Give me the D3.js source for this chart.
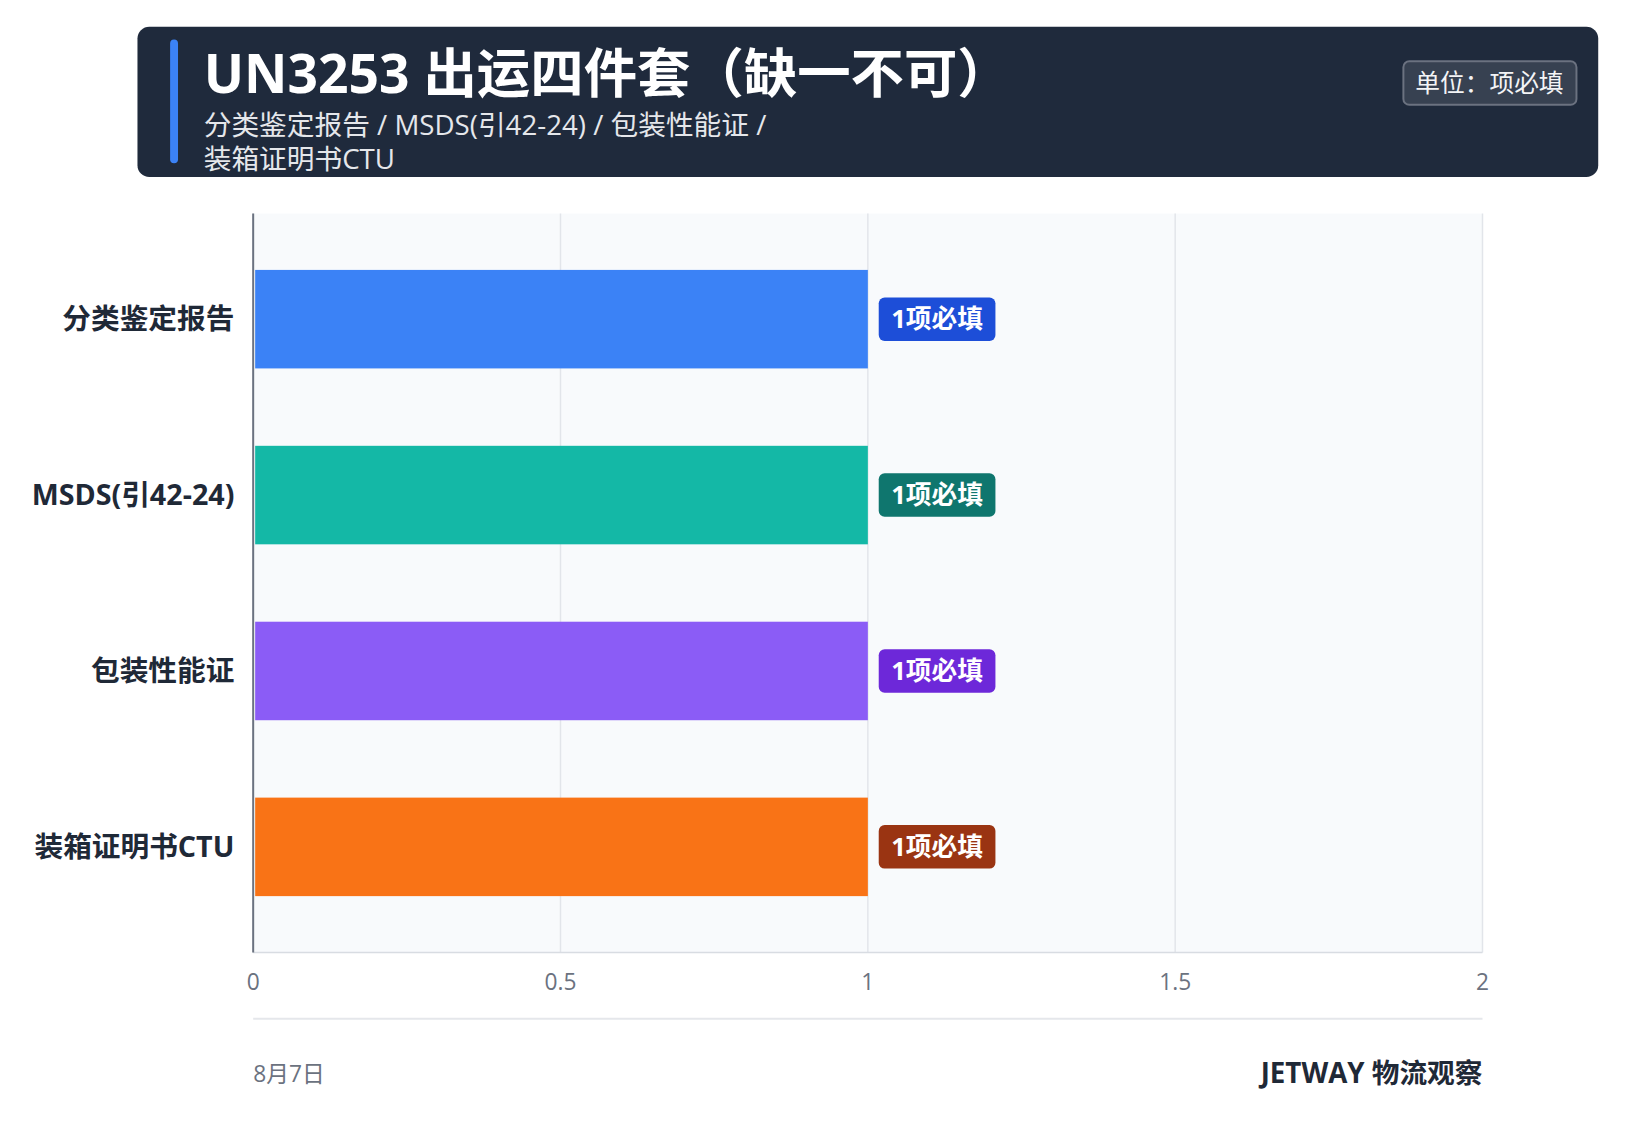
<!DOCTYPE html><html><head><meta charset="utf-8">
<script src="https://cdn.jsdelivr.net/npm/d3@7"></script>
<style>body{margin:0;background:#fff}</style></head><body>
<svg id="c" width="1648" height="1145"></svg>
<script>
const categories=["分类鉴定报告","MSDS(引42-24)","包装性能证","装箱证明书CTU"];
const values=[1,1,1,1];
const barLabels=["1项必填","1项必填","1项必填","1项必填"];
const barColors=["#3b82f6","#14b8a6","#8b5cf6","#f97316"];
const badgeColors=["#1d4ed8","#0f766e","#6d28d9","#9a3412"];
const xTicks=[0,0.5,1,1.5,2];
const svg=d3.select("#c").append("g").attr("transform","scale(0.989)");
const F='"Open Sans","Noto Sans CJK SC",sans-serif';
svg.append("rect").attr("x",139).attr("y",27).attr("width",1477).attr("height",152).attr("rx",12).attr("fill","#1f2a3c");
svg.append("rect").attr("x",172).attr("y",40).attr("width",8).attr("height",125).attr("rx",4).attr("fill","#3b82f6");
svg.append("text").attr("x",206).attr("y",94).attr("fill","#fff").attr("font-size",54).attr("font-weight",700).attr("font-family",F).text("UN3253 出运四件套（缺一不可）");
svg.append("text").attr("x",206).attr("y",136).attr("fill","#e5e7eb").attr("font-size",28).attr("font-family",F).text("分类鉴定报告 / MSDS(引42-24) / 包装性能证 /");
svg.append("text").attr("x",206).attr("y",171).attr("fill","#e5e7eb").attr("font-size",28).attr("font-family",F).text("装箱证明书CTU");
svg.append("rect").attr("x",1419).attr("y",62).attr("width",175).attr("height",44).attr("rx",6).attr("fill","#374151").attr("stroke","#6b7280").attr("stroke-width",2);
svg.append("text").attr("x",1506).attr("y",93).attr("text-anchor","middle").attr("fill","#f3f4f6").attr("font-size",25).attr("font-family",F).text("单位：项必填");
const L=256,R=1499,T=216,B=963;
const x=d3.scaleLinear().domain([0,2]).range([L,R]);
const y=d3.scaleBand().domain(categories).range([T,B]).paddingInner(0.44).paddingOuter(0.32);
svg.append("rect").attr("x",L).attr("y",T).attr("width",R-L).attr("height",B-T).attr("fill","#f8fafc");
svg.append("g").selectAll("line").data(xTicks).join("line").attr("x1",d=>x(d)).attr("x2",d=>x(d)).attr("y1",T).attr("y2",B).attr("stroke","#e2e5ea").attr("stroke-width",1.5);
svg.append("line").attr("x1",L).attr("x2",R).attr("y1",B).attr("y2",B).attr("stroke","#d8dce2").attr("stroke-width",1.5);
svg.append("line").attr("x1",L).attr("x2",L).attr("y1",T).attr("y2",B).attr("stroke","#6b7280").attr("stroke-width",2);
svg.append("g").selectAll("rect").data(categories).join("rect").attr("x",x(0)+2).attr("y",d=>y(d)).attr("width",(d,i)=>x(values[i])-x(0)-2).attr("height",y.bandwidth()).attr("fill",(d,i)=>barColors[i]);
const bg=svg.append("g").selectAll("g").data(categories).join("g").attr("transform",(d,i)=>`translate(${x(values[i])+11},${y(d)+y.bandwidth()/2})`);
bg.append("rect").attr("x",0).attr("y",-22).attr("width",118).attr("height",44).attr("rx",6).attr("fill",(d,i)=>badgeColors[i]);
bg.append("text").attr("x",59).attr("y",9).attr("text-anchor","middle").attr("fill","#fff").attr("font-size",26).attr("font-weight",700).attr("font-family",F).text((d,i)=>barLabels[i]);
svg.append("g").selectAll("text").data(categories).join("text").attr("x",237).attr("y",d=>y(d)+y.bandwidth()/2+10).attr("text-anchor","end").attr("fill","#1f2937").attr("font-size",29).attr("font-weight",700).attr("font-family",F).text(d=>d);
svg.append("g").selectAll("text").data(xTicks).join("text").attr("x",d=>x(d)).attr("y",1001).attr("text-anchor","middle").attr("fill","#6b7280").attr("font-size",23).attr("font-family",F).text(d=>d);
svg.append("line").attr("x1",L).attr("x2",R).attr("y1",1030).attr("y2",1030).attr("stroke","#e5e7eb").attr("stroke-width",2);
svg.append("text").attr("x",L).attr("y",1094).attr("fill","#6b7280").attr("font-size",23).attr("font-family",F).text("8月7日");
svg.append("text").attr("x",R).attr("y",1095).attr("text-anchor","end").attr("fill","#1f2937").attr("font-size",28).attr("font-weight",700).attr("font-family",F).text("JETWAY 物流观察");
</script></body></html>
